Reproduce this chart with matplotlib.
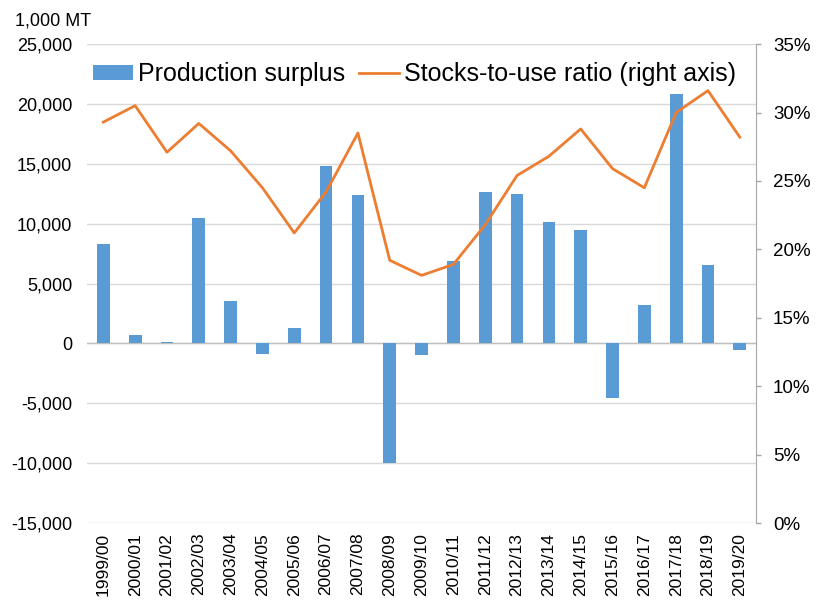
import numpy as np
import matplotlib.pyplot as plt
from matplotlib.ticker import FuncFormatter, MultipleLocator

plt.rcParams['font.family'] = ['Liberation Sans', 'DejaVu Sans']

# data
seasons = ['1999/00', '2000/01', '2001/02', '2002/03', '2003/04', '2004/05', '2005/06',
           '2006/07', '2007/08', '2008/09', '2009/10', '2010/11', '2011/12', '2012/13',
           '2013/14', '2014/15', '2015/16', '2016/17', '2017/18', '2018/19', '2019/20']
surplus = [8340, 690, 110, 10500, 3560, -890, 1280,
           14860, 12360, -9950, -970, 6890, 12670, 12500,
           10170, 9500, -4580, 3220, 20830, 6560, -560]
stocks_ratio = [29.3, 30.5, 27.1, 29.2, 27.2, 24.5, 21.2,
                24.2, 28.5, 19.2, 18.1, 18.9, 21.8, 25.4,
                26.8, 28.8, 25.9, 24.5, 30.0, 31.6, 28.2]

bar_color = '#5B9BD5'
line_color = '#ED7D31'
grid_color = '#D9D9D9'

fig = plt.figure(figsize=(8.17, 6.04), dpi=100)
ax = fig.add_axes([0.107, 0.134, 0.818, 0.793])
ax2 = ax.twinx()

x = np.arange(len(seasons))
bars = ax.bar(x, surplus, width=0.4, color=bar_color, zorder=3, label='Production surplus')
line, = ax2.plot(x, stocks_ratio, color=line_color, lw=2.0, zorder=4,
                 label='Stocks-to-use ratio (right axis)')

# left axis
ax.set_ylim(-15000, 25000)
ax.yaxis.set_major_locator(MultipleLocator(5000))
ax.yaxis.set_major_formatter(FuncFormatter(lambda v, p: f'{v:,.0f}'))
ax.set_xlim(-0.5, len(seasons) - 0.5)
ax.grid(axis='y', color=grid_color, lw=1.0, zorder=0)
ax.axhline(0, color='#BFBFBF', lw=1.0, zorder=2)
ax.set_xticks(x)
ax.set_xticklabels(seasons, rotation=90)
ax.tick_params(axis='x', length=0, pad=7, labelsize=12.5)
ax.tick_params(axis='y', length=0, pad=11, labelsize=13)
for s in ['top', 'left', 'bottom', 'right']:
    ax.spines[s].set_visible(False)

# right axis
ax2.set_ylim(0, 35)
ax2.yaxis.set_major_locator(MultipleLocator(5))
ax2.yaxis.set_major_formatter(FuncFormatter(lambda v, p: f'{v:.0f}%'))
ax2.tick_params(axis='y', length=3.6, width=1, color='#A6A6A6', pad=8.9, labelsize=13.5)
for s in ['top', 'left', 'bottom']:
    ax2.spines[s].set_visible(False)
ax2.spines['right'].set_color('#A6A6A6')

ax.set_zorder(ax2.get_zorder() - 1)
ax.patch.set_visible(False)

fig.text(0.018, 0.965, '1,000 MT', fontsize=13, va='center', ha='left')

ax2.legend([bars, line], ['Production surplus', 'Stocks-to-use ratio (right axis)'],
           loc='center left', bbox_to_anchor=(0.008, 0.937), ncol=2, frameon=False,
           fontsize=18, borderpad=0, borderaxespad=0, handlelength=1.6,
           handleheight=0.5, handletextpad=0.2, columnspacing=0.55)

fig.savefig('out.png', dpi=100)
